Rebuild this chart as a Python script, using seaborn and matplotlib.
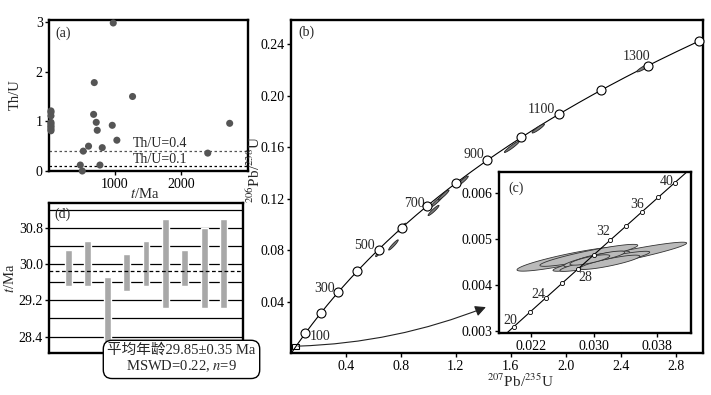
import numpy as np
import pandas as pd
import matplotlib
matplotlib.use("Agg")
import matplotlib.pyplot as plt
import seaborn as sns
from matplotlib.patches import Polygon, Rectangle, FancyArrowPatch
from matplotlib.ticker import FormatStrFormatter

# ---------------- data ----------------
# (a) Th/U versus age (Ma)
thu_age = [30, 30, 30, 30, 30, 30, 30, 30, 30,
           975, 687, 1268, 677, 717, 732, 960, 1030, 600, 808, 520, 475, 505, 773, 2409, 2742]
thu_ratio = [1.21, 1.18, 1.11, 0.98, 0.95, 0.91, 0.88, 0.84, 0.81,
             2.98, 1.78, 1.50, 1.14, 0.98, 0.82, 0.92, 0.62, 0.50, 0.47, 0.40, 0.12, 0.00, 0.12, 0.36, 0.96]
thu_ref = [0.4, 0.1]
thu_ref_labels = ["Th/U=0.4", "Th/U=0.1"]

# (d) weighted mean of the young spots
spot_age = [29.91, 30.01, 28.85, 29.81, 30.01, 30.00, 29.91, 29.91, 30.00]
spot_err = [0.39, 0.49, 0.86, 0.40, 0.49, 0.98, 0.39, 0.89, 0.98]
mean_age = 29.85
mean_err = 0.35
mswd = 0.22

# (b) concordia with old grains
conc_marks = list(range(100, 1500, 100))
conc_labels = [100, 300, 500, 700, 900, 1100, 1300]
old_x = [0.745, 0.635, 0.806, 1.037, 1.061, 1.110, 1.250, 1.608, 1.800, 2.568]
old_y = [0.0842, 0.0777, 0.0977, 0.1110, 0.1180, 0.1230, 0.1340, 0.1605, 0.1747, 0.2219]
old_hx = [0.035, 0.020, 0.030, 0.040, 0.045, 0.040, 0.040, 0.055, 0.045, 0.050]

# (c) inset with young grains
young_marks = list(range(20, 42, 2))
young_labels = [20, 24, 28, 32, 36, 40]
young_x = [0.02695, 0.03325, 0.02934, 0.03035, 0.03010, 0.03136, 0.03199, 0.03136, 0.02947]
young_y = [0.00457, 0.00462, 0.00465, 0.00457, 0.00459, 0.00452, 0.00450, 0.00463, 0.00455]
young_hx = [0.00668, 0.00844, 0.00618, 0.00416, 0.00252, 0.00567, 0.00378, 0.00252, 0.00252]
young_hy = [0.00012, 0.00011, 0.00010, 0.00009, 0.00007, 0.00009, 0.00008, 0.00007, 0.00007]
young_slope = 0.035

L238 = 1.55125e-10
L235 = 9.8485e-10


def concordia(t_ma):
    t = np.asarray(t_ma, dtype=float) * 1e6
    return np.expm1(L235 * t), np.expm1(L238 * t)


# ---------------- style ----------------
sns.set_style("ticks")
plt.rcParams['font.family'] = ['Liberation Serif', 'Noto Sans CJK SC', 'DejaVu Sans']
plt.rcParams['mathtext.fontset'] = 'stix'
plt.rcParams['font.size'] = 10
plt.rcParams['axes.linewidth'] = 1.7
plt.rcParams['axes.edgecolor'] = 'black'
plt.rcParams['xtick.color'] = 'black'
plt.rcParams['ytick.color'] = 'black'
plt.rcParams['xtick.major.size'] = 3
plt.rcParams['ytick.major.size'] = 3
plt.rcParams['xtick.major.width'] = 1
plt.rcParams['ytick.major.width'] = 1
plt.rcParams['xtick.major.pad'] = 2
plt.rcParams['ytick.major.pad'] = 1.5

W, H = 711, 395
fig = plt.figure(figsize=(W / 100, H / 100), dpi=100)


def rect(l, t, r, b):
    return [l / W, 1 - b / H, (r - l) / W, (b - t) / H]


ax_a = fig.add_axes(rect(49, 20, 248, 171))
ax_d = fig.add_axes(rect(49, 202.7, 243, 353.3))
ax_b = fig.add_axes(rect(291.2, 20, 703, 353.3))
ax_c = fig.add_axes(rect(499, 172.3, 690.7, 333.3))

fs = 10

# ---------------- (a) ----------------
df_a = pd.DataFrame({"age": thu_age, "thu": thu_ratio})
sns.scatterplot(data=df_a, x="age", y="thu", ax=ax_a, color='#555555', s=26,
                edgecolor='none', clip_on=False, zorder=3, legend=False)
ax_a.axhline(thu_ref[0], color='#555555', lw=0.9, ls=(0, (2, 2)))
ax_a.axhline(thu_ref[1], color='black', lw=0.9, ls=(0, (2, 2)))
ax_a.text(1690, thu_ref[0] + 0.02, thu_ref_labels[0], ha='center', va='bottom', fontsize=fs)
ax_a.text(1690, thu_ref[1] + 0.01, thu_ref_labels[1], ha='center', va='bottom', fontsize=fs)
ax_a.set_xlim(0, 3020)
ax_a.set_ylim(0, 3.04)
ax_a.set_xticks([1000, 2000])
ax_a.set_yticks([0, 1, 2, 3])
ax_a.tick_params(labelsize=fs)
ax_a.set_xlabel("$t$/Ma", fontsize=fs + 0.5)
ax_a.set_ylabel("Th/U", fontsize=fs + 0.5)
ax_a.xaxis.set_label_coords(0.482, -0.106)
ax_a.yaxis.set_label_coords(-0.136, 0.503)
ax_a.text(0.03, 0.915, "(a)", transform=ax_a.transAxes, ha='left', va='center', fontsize=fs)

# ---------------- (d) ----------------
pos = np.arange(1, len(spot_age) + 1)
lo = np.array(spot_age) - np.array(spot_err)
for yv in np.arange(28.4, 31.3, 0.4):
    ax_d.axhline(yv, color='black', lw=0.9, zorder=1)
ax_d.bar(pos, 2 * np.array(spot_err), bottom=lo, width=0.36, color='#a8a8a8', zorder=2)
ax_d.axhline(mean_age, color='black', lw=0.9, ls=(0, (3, 2)), zorder=3)
ax_d.set_xlim(0, 10)
ax_d.set_ylim(28.03, 31.35)
ax_d.set_xticks([])
ax_d.set_yticks([28.4, 29.2, 30.0, 30.8])
ax_d.yaxis.set_major_formatter(FormatStrFormatter('%.1f'))
ax_d.tick_params(labelsize=fs)
ax_d.set_ylabel("$t$/Ma", fontsize=fs + 0.5)
ax_d.yaxis.set_label_coords(-0.165, 0.5)
ax_d.text(0.03, 0.92, "(d)", transform=ax_d.transAxes, ha='left', va='center', fontsize=fs)
fig.text(181.5 / W, 1 - 359 / H,
         f"平均年龄{mean_age:.2f}±{mean_err:.2f} Ma\nMSWD={mswd:.2f}, $n$={len(spot_age)}",
         ha='center', va='center', fontsize=10.5, linespacing=1.15, zorder=10,
         bbox=dict(boxstyle='round,pad=0.28,rounding_size=0.6', fc='white', ec='black', lw=1))


def sheared_ellipse(cx, cy, hx, slope, hy, n=80):
    t = np.linspace(0, 2 * np.pi, n)
    return np.column_stack([cx + hx * np.cos(t), cy + slope * hx * np.cos(t) + hy * np.sin(t)])


# ---------------- (b) ----------------
line_x, line_y = concordia(np.linspace(0, 1400, 400))
sns.lineplot(x=line_x, y=line_y, sort=False, estimator=None, color='black', lw=0.8, ax=ax_b, zorder=2)
for cx, cy, hx in zip(old_x, old_y, old_hx):
    slope = L238 * (1 + cy) / (L235 * (1 + cx))
    ax_b.add_patch(Polygon(sheared_ellipse(cx, cy, hx, slope * 1.1, 0.0013), closed=True,
                           fc='#7a7a7a', ec='#222222', lw=0.6, zorder=3))
mx, my = concordia(conc_marks)
sns.scatterplot(x=mx, y=my, ax=ax_b, color='white', edgecolor='black', linewidth=0.8,
                s=42, zorder=4, legend=False, clip_on=False)
label_off = {100: (10.5, -2.5), 300: (-10, 2.4), 500: (-9.9, 2.8), 700: (-9.4, 1.9),
             900: (-9.6, 4.1), 1100: (-12.7, 2.9), 1300: (-8.4, 6.5)}
for age in conc_labels:
    px, py = concordia(age)
    ax_b.annotate(str(age), (px, py), xytext=label_off[age], textcoords='offset points',
                  ha='center', va='center', fontsize=fs)
ax_b.add_patch(Rectangle((0.006, 0.0036), 0.048, 0.0034, fill=False, ec='black', lw=0.8, zorder=5))
ax_b.add_patch(FancyArrowPatch(posA=(0.03, 0.0055), posB=(1.437, 0.0367),
                               connectionstyle='arc3,rad=0.09', arrowstyle='-|>',
                               mutation_scale=16, lw=0.8, color='#222222', zorder=5))
ax_b.set_xlim(0, 3.0)
ax_b.set_ylim(0, 0.259)
ax_b.set_xticks([0.4, 0.8, 1.2, 1.6, 2.0, 2.4, 2.8])
ax_b.set_yticks([0.04, 0.08, 0.12, 0.16, 0.20, 0.24])
ax_b.xaxis.set_major_formatter(FormatStrFormatter('%.1f'))
ax_b.yaxis.set_major_formatter(FormatStrFormatter('%.2f'))
ax_b.tick_params(labelsize=fs)
ax_b.set_xlabel("$^{207}$Pb/$^{235}$U", fontsize=fs + 1)
ax_b.set_ylabel("$^{206}$Pb/$^{238}$U", fontsize=fs + 1)
ax_b.xaxis.set_label_coords(0.556, -0.057)
ax_b.yaxis.set_label_coords(-0.068, 0.55)
ax_b.text(0.017, 0.964, "(b)", transform=ax_b.transAxes, ha='left', va='center', fontsize=fs)

# ---------------- (c) ----------------
ax_c.set_facecolor('white')
for cx, cy, hx, hy in zip(young_x, young_y, young_hx, young_hy):
    ax_c.add_patch(Polygon(sheared_ellipse(cx, cy, hx, young_slope, hy), closed=True,
                           fc='#bababa', ec='#333333', lw=0.6, zorder=2))
yl_x, yl_y = concordia(np.linspace(16, 46, 200))
sns.lineplot(x=yl_x, y=yl_y, sort=False, estimator=None, color='black', lw=0.8, ax=ax_c, zorder=3)
ymx, ymy = concordia(young_marks)
sns.scatterplot(x=ymx, y=ymy, ax=ax_c, color='white', edgecolor='black', linewidth=0.6,
                s=9, zorder=4, legend=False)
young_off = {20: (-2.9, 4.1), 24: (-5.5, 2.7), 28: (5.5, -6), 32: (-4.8, 6), 36: (-3.6, 4.8), 40: (-6, 0.7)}
for age in young_labels:
    px, py = concordia(age)
    ax_c.annotate(str(age), (px, py), xytext=young_off[age], textcoords='offset points',
                  ha='center', va='center', fontsize=fs)
ax_c.set_xlim(0.0180, 0.0422)
ax_c.set_ylim(0.00296, 0.00645)
ax_c.set_xticks([0.022, 0.030, 0.038])
ax_c.set_yticks([0.003, 0.004, 0.005, 0.006])
ax_c.xaxis.set_major_formatter(FormatStrFormatter('%.3f'))
ax_c.yaxis.set_major_formatter(FormatStrFormatter('%.3f'))
ax_c.tick_params(labelsize=fs)
ax_c.text(0.047, 0.90, "(c)", transform=ax_c.transAxes, ha='left', va='center', fontsize=fs)

fig.savefig("out.png", dpi=100)
